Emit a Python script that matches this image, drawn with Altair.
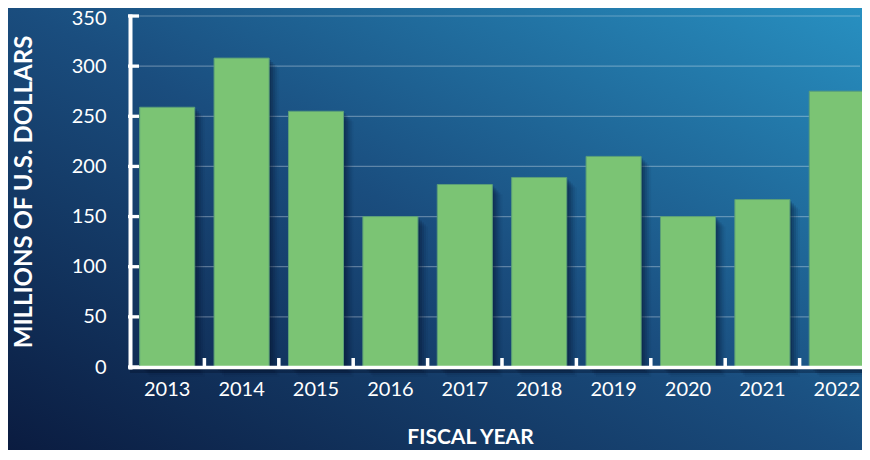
import altair as alt
import pandas as pd

years = ["2013", "2014", "2015", "2016", "2017", "2018", "2019", "2020", "2021", "2022"]
values = [259, 308, 255, 150, 182, 189, 210, 150, 167, 275]
y_ticks = [0, 50, 100, 150, 200, 250, 300, 350]

W = 732          # visible plot width (svg is clipped at the window edge)
RANGE = 744      # band range, the last bar runs to the edge as in the original
H = 351

bars_df = pd.DataFrame({"year": years, "value": values})
ticks_df = pd.DataFrame({"value": y_ticks})
xticks_df = pd.DataFrame({"year": years[1:]})
one = pd.DataFrame({"a": [0]})

yscale = alt.Scale(domain=[0, 350], nice=False)
xscale = alt.Scale(paddingInner=0, paddingOuter=0, domain=years, range=[0, RANGE])

x_axis = alt.Axis(
    title="FISCAL YEAR", labelAngle=0, ticks=False, tickSize=0,
    labelFont="Lato", labelFontSize=20, labelColor="white",
    labelBaseline="middle", labelPadding=22,
    domainColor="white", domainWidth=3.5, domainCap="square",
    titleFont="Lato", titleFontSize=21, titleFontWeight="bold",
    titleColor="white", titleX=340, titleY=70,
    titleBaseline="middle", titleAlign="center", zindex=2,
)
y_axis = alt.Axis(
    title="MILLIONS OF U.S. DOLLARS", values=y_ticks, grid=False,
    ticks=False, tickSize=0,
    labelFont="Lato", labelFontSize=20, labelColor="white",
    labelPadding=24, labelBaseline="middle",
    labelOffset={"condition": {"test": "datum.value == 350", "value": 2.5}, "value": 0},
    domainColor="white", domainWidth=4, domainCap="square",
    titleFont="Lato", titleFontSize=24, titleFontWeight="bold",
    titleColor="white", titleX=-106, titleY=H / 2, titleAngle=270,
    titleBaseline="middle", titleAlign="center", zindex=2,
)


def X(**kw):
    return alt.X("year:N", scale=xscale, axis=x_axis, title="FISCAL YEAR", **kw)


def Y():
    return alt.Y("value:Q", scale=yscale, axis=y_axis, title="MILLIONS OF U.S. DOLLARS")


gradient = alt.LinearGradient(
    gradient="linear",
    stops=[
        alt.GradientStop(color="#0a1a3e", offset=0),
        alt.GradientStop(color="#1a4d7e", offset=0.5),
        alt.GradientStop(color="#2892c3", offset=1),
    ],
    x1=0, y1=1, x2=1, y2=0,
)

bg = alt.Chart(one).mark_rect(color=gradient).encode(
    x=alt.value(-130), x2=alt.value(RANGE), y=alt.value(-16), y2=alt.value(444)
)

grid = alt.Chart(ticks_df).transform_filter("datum.value > 0").mark_rule(
    color="white", opacity=0.3, strokeWidth=1.2
).encode(y=Y(), x=alt.value(0), x2=alt.value(730))

shadows = []
for k, op in [(2, 0.2), (4, 0.17), (6, 0.13), (8, 0.09), (10, 0.05)]:
    shadows.append(
        alt.Chart(bars_df).mark_bar(
            color="#04102a", opacity=op, xOffset=k, yOffset=k,
            width=alt.RelativeBandSize(0.74),
        ).encode(x=X(), y=Y())
    )

bars = alt.Chart(bars_df).mark_bar(
    color="#7bc474", stroke="#5b9f78", strokeWidth=1,
    width=alt.RelativeBandSize(0.74),
).encode(x=X(), y=Y())

axis_shadow = alt.Chart(one).mark_rule(color="#04102a", opacity=0.35, strokeWidth=4).encode(
    x=alt.value(0), x2=alt.value(RANGE), y=alt.value(H + 4)
)

ytick_rules = alt.Chart(ticks_df).mark_rule(color="white", strokeWidth=3.3).encode(
    y=Y(), x=alt.value(-2), x2=alt.value(9),
)

xtick_rules = alt.Chart(xticks_df).mark_rule(color="white", strokeWidth=3.5).encode(
    x=X(bandPosition=0), y=alt.value(H - 9), y2=alt.value(H),
)

chart = alt.layer(
    bg, grid, *shadows, bars, axis_shadow, ytick_rules, xtick_rules
).properties(
    width=W, height=H,
    autosize=alt.AutoSizeParams(type="none"),
    padding={"left": 122, "top": 8, "right": 0, "bottom": 83},
).configure_view(stroke=None)

chart.save("out.html", embed_options={"renderer": "svg", "actions": False})
